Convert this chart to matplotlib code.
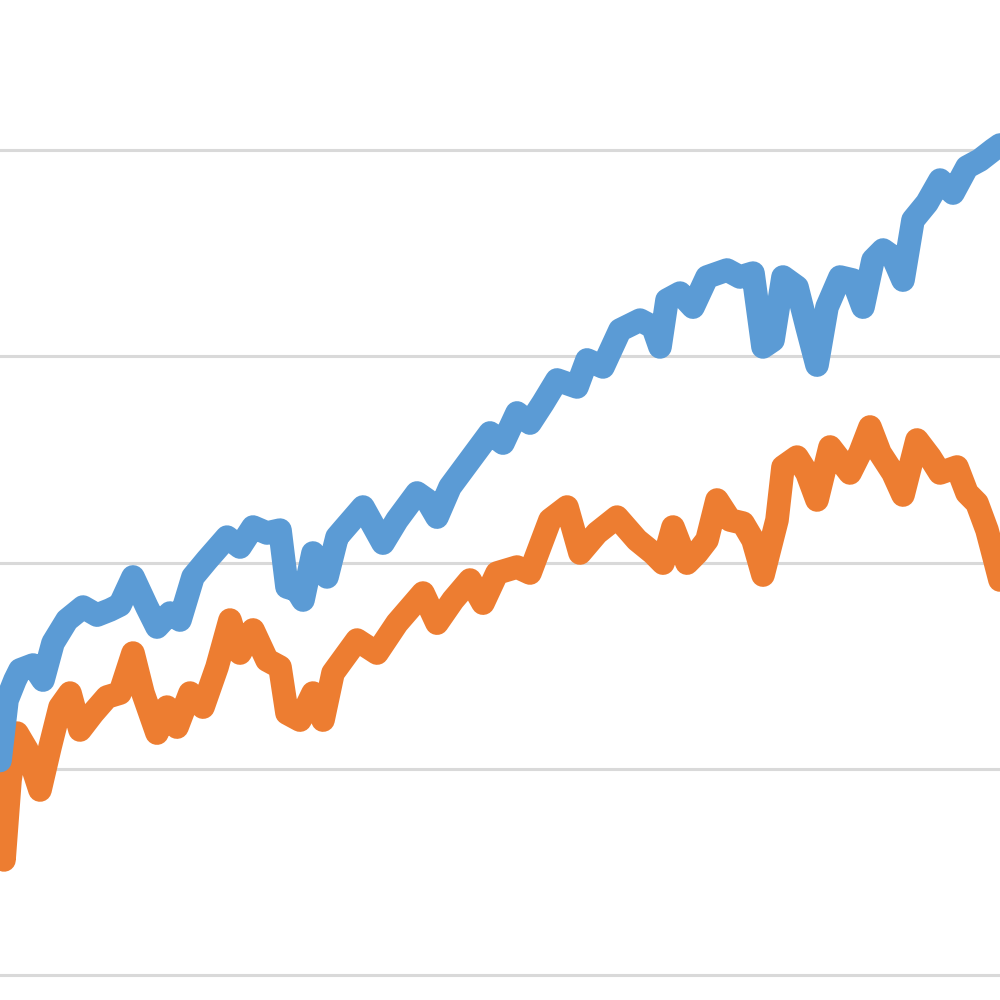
import numpy as np
import matplotlib.pyplot as plt

# sample positions (horizontal index) and values
blue_x = [0, 7, 15, 20, 33, 43, 53, 67, 83, 97, 110, 120, 133, 147, 157, 170, 180, 193,
          207, 227, 240, 253, 267, 280, 287, 297, 303, 313, 327, 337, 343, 363, 383, 397,
          417, 427, 437, 450, 470, 490, 503, 517, 530, 543, 557, 577, 587, 603, 620, 640,
          653, 660, 667, 680, 693, 707, 727, 740, 753, 763, 773, 783, 797, 807, 817, 827,
          840, 853, 863, 873, 883, 893, 903, 913, 927, 940, 953, 967, 980, 993, 1000]
blue_y = [104.0, 133.3, 143.0, 147.9, 150.3, 143.0, 161.0, 172.1, 178.4, 174.5, 177.0, 179.4,
          193.0, 178.4, 168.7, 175.5, 172.1, 193.0, 201.2, 212.3, 207.5, 217.2, 214.3, 215.7,
          188.1, 186.6, 181.8, 204.6, 193.0, 212.3, 215.7, 226.9, 209.4, 220.6, 233.7, 230.3,
          222.0, 236.6, 249.7, 262.8, 257.9, 272.5, 267.6, 277.3, 288.5, 285.1, 298.2, 294.8,
          312.7, 317.5, 314.2, 304.5, 327.2, 330.6, 323.8, 338.4, 341.8, 338.4, 340.3, 304.5,
          307.8, 338.4, 333.5, 314.2, 295.7, 323.8, 338.4, 336.9, 323.8, 346.6, 351.5, 348.1,
          336.9, 366.0, 374.3, 385.4, 379.1, 391.7, 395.1, 400.0, 402.4]

orange_x = [0, 4, 10, 17, 27, 40, 50, 60, 70, 80, 93, 107, 120, 133, 143, 157, 167, 177,
            190, 203, 217, 230, 240, 253, 267, 280, 287, 300, 313, 323, 333, 357, 377, 397,
            423, 437, 453, 470, 483, 497, 517, 530, 550, 567, 580, 597, 617, 637, 653, 663,
            673, 687, 697, 707, 717, 730, 743, 753, 763, 777, 783, 797, 807, 817, 830, 840,
            850, 860, 870, 880, 893, 903, 917, 930, 940, 957, 967, 977, 987, 993, 1000]
orange_y = [89.7, 55.8, 94.5, 117.3, 109.1, 89.7, 110.5, 129.9, 136.7, 118.8, 127.0, 134.8,
            136.7, 156.1, 136.7, 117.3, 129.9, 120.2, 136.7, 129.9, 149.3, 172.1, 156.1, 167.3,
            152.7, 149.3, 127.0, 123.6, 136.7, 123.6, 146.4, 162.4, 156.1, 170.6, 185.2, 170.6,
            181.8, 191.5, 180.3, 194.9, 197.8, 194.9, 220.6, 226.9, 204.6, 214.3, 222.0, 210.9,
            204.6, 199.7, 217.2, 199.7, 204.6, 210.9, 230.3, 220.6, 219.1, 210.9, 193.9, 220.6,
            246.3, 251.1, 243.4, 230.3, 256.0, 249.7, 243.4, 253.1, 265.7, 253.1, 243.4, 232.7,
            259.4, 251.1, 243.4, 246.3, 233.7, 228.8, 215.7, 204.6, 191.5]

grid_vals = [0, 100, 200, 300, 400]

fig = plt.figure(figsize=(10, 10), dpi=100)
ax = fig.add_axes([0, 0, 1, 1])

# light horizontal gridlines, no ticks or labels in the crop
for g in grid_vals:
    ax.axhline(g, color='#D9D9D9', linewidth=2.2, zorder=1)

ax.plot(orange_x, orange_y, color='#ED7D31', linewidth=17,
        solid_joinstyle='round', solid_capstyle='round', zorder=2)
ax.plot(blue_x, blue_y, color='#5B9BD5', linewidth=17,
        solid_joinstyle='round', solid_capstyle='round', zorder=3)

ax.set_xlim(0, 1000)
ax.set_ylim(-12.1, 472.7)
ax.axis('off')

fig.savefig('out.png', dpi=100, facecolor='white')
